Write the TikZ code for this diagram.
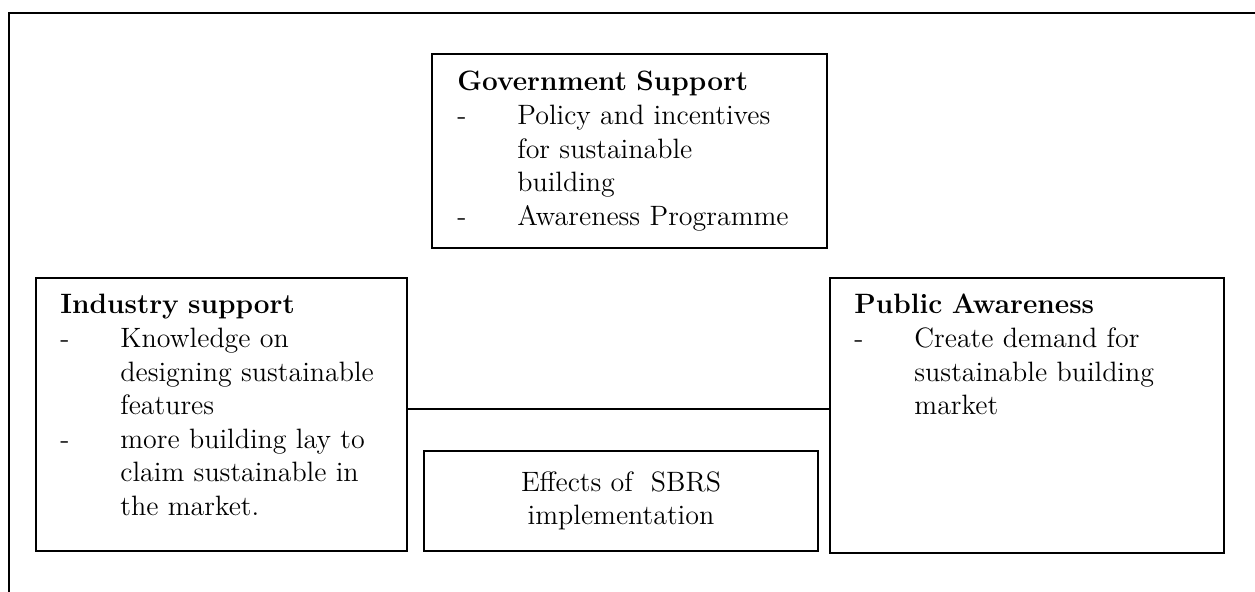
\documentclass[tikz,border=0pt]{standalone}
\usetikzlibrary{calc,positioning}
\newcommand{\itemdash}{\makebox[30pt][l]{-}}
\newcommand{\itemgap}{\hspace*{30pt}}

\begin{document}
\begin{tikzpicture}[x=0.5pt,y=-0.5pt,text=black,
  node font=\fontsize{14}{16.8}\selectfont,
  box/.style={rectangle,draw,line width=1pt,inner sep=0pt},
  boxtext/.style={anchor=base west,align=left,text width=180pt,inner sep=0pt}]

  \useasboundingbox (0,0) rectangle (1255,592);

  % outer frame
  \draw[line width=1pt] (8.5,592) -- (8.5,13) -- (1255,13);

  \node (gov) at (629.5,151) [box,minimum width=197.5pt,minimum height=97pt] {};
  \node (govtxt) at ($(gov.north west)+(26,38)$) [boxtext]
        {\textbf{Government Support}\\
         \itemdash Policy and incentives\\
         \itemgap for sustainable\\
         \itemgap building\\
         \itemdash Awareness Programme};

  \node (ind) at (221.5,414.5) [box,minimum width=185.5pt,minimum height=136.5pt] {};
  \node (indtxt) at ($(ind.north west)+(25,37)$) [boxtext]
        {\textbf{Industry support}\\
         \itemdash Knowledge on\\
         \itemgap designing sustainable\\
         \itemgap features\\
         \itemdash more building lay to\\
         \itemgap claim sustainable in\\
         \itemgap the market.};

  \node (pub) at (1027,415.5) [box,minimum width=197pt,minimum height=137.5pt] {};
  \node (pubtxt) at ($(pub.north west)+(25,37)$) [boxtext]
        {\textbf{Public Awareness}\\
         \itemdash Create demand for\\
         \itemgap sustainable building\\
         \itemgap market};

  \node (eff) at (621,501) [box,minimum width=197pt,minimum height=50pt,align=center]
        {Effects of \ SBRS\\implementation};

  \coordinate (mid) at (621,409);
  \draw[line width=1.2pt] (ind.east |- mid) -- (pub.west |- mid);

\end{tikzpicture}
\end{document}
